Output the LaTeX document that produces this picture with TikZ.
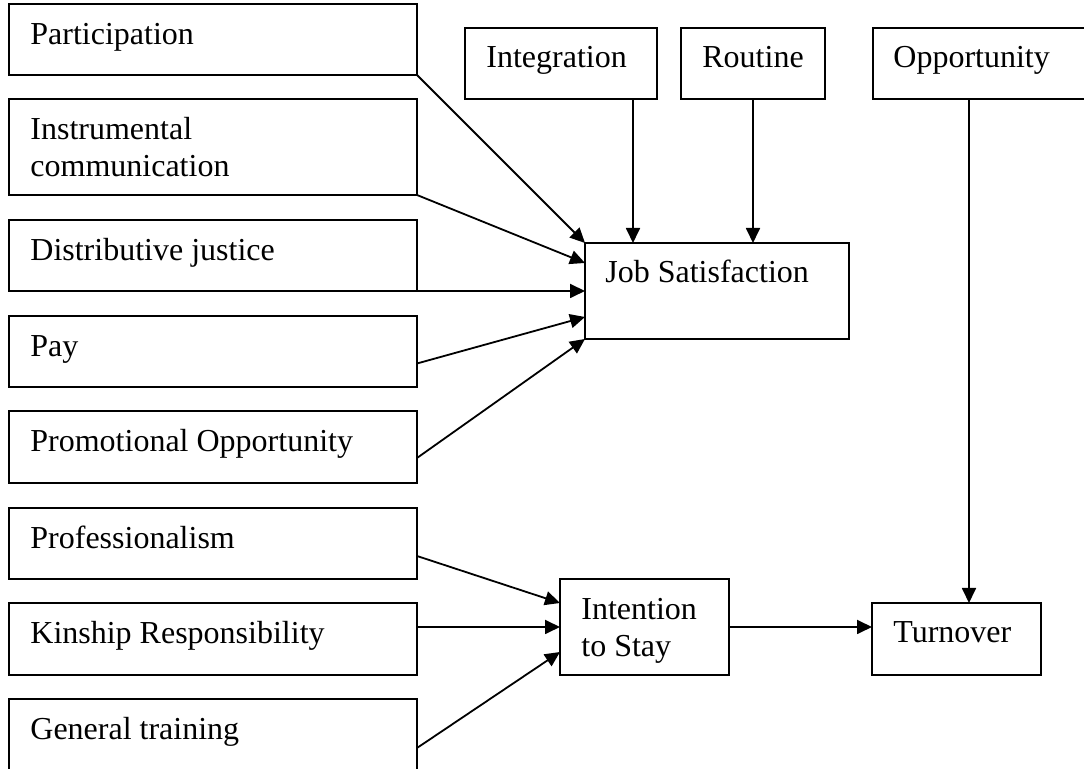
\documentclass[tikz,border=0pt]{standalone}
\usepackage{fontspec}
\setmainfont{Liberation Serif}
\usetikzlibrary{arrows.meta,calc}
\begin{document}
\begin{tikzpicture}[x=0.5pt,y=-0.5pt,
  box/.style={draw,line width=1.1pt,inner sep=0pt,outer sep=0pt,rectangle},
  lbl/.style={inner sep=0pt,anchor=base west,align=left,font=\fontsize{16}{18.5}\selectfont},
  conn/.style={line width=0.9pt,-{Triangle[length=7.5pt,width=7pt]}}]
\useasboundingbox (0,0) rectangle (1084,769);
% left boxes (w 408 px = 204pt)
\node[box,minimum width=204pt,minimum height=35.5pt] (part) at (213,39.5) {};
\node[lbl] (partT) at (30,45) {Participation};
\node[box,minimum width=204pt,minimum height=48pt] (instr) at (213,147) {};
\node[lbl] (instrT) at (30,177) {Instrumental\\communication};
\node[box,minimum width=204pt,minimum height=35.5pt] (dist) at (213,255.5) {};
\node[lbl] (distT) at (30,261) {Distributive justice};
\node[box,minimum width=204pt,minimum height=35.5pt] (pay) at (213,351.5) {};
\node[lbl] (payT) at (30,357) {Pay};
\node[box,minimum width=204pt,minimum height=36pt] (promo) at (213,447) {};
\node[lbl] (promoT) at (30,452) {Promotional Opportunity};
\node[box,minimum width=204pt,minimum height=35.5pt] (prof) at (213,543.5) {};
\node[lbl] (profT) at (30,549) {Professionalism};
\node[box,minimum width=204pt,minimum height=36pt] (kin) at (213,639) {};
\node[lbl] (kinT) at (30,644) {Kinship Responsibility};
\node[box,minimum width=204pt,minimum height=36pt] (gen) at (213,735) {};
\node[lbl] (genT) at (30,740) {General training};
% top boxes
\node[box,minimum width=96pt,minimum height=35.5pt] (integ) at (561,63.5) {};
\node[lbl] (integT) at (486,68) {Integration};
\node[box,minimum width=72pt,minimum height=35.5pt] (rout) at (753,63.5) {};
\node[lbl] (routT) at (702,68) {Routine};
\node[box,minimum width=111pt,minimum height=35.5pt] (opp) at (984,63.5) {};
\node[lbl] (oppT) at (893,68) {Opportunity};
% central boxes
\node[box,minimum width=132pt,minimum height=48pt] (js) at (717,291) {};
\node[lbl] (jsT) at (605,283) {Job Satisfaction};
\node[box,minimum width=84.5pt,minimum height=48pt] (its) at (644.5,627) {};
\node[lbl] (itsT) at (581,657) {Intention\\to Stay};
\node[box,minimum width=84.5pt,minimum height=36pt] (turn) at (956.5,639) {};
\node[lbl] (turnT) at (893,643) {Turnover};
% connectors
\draw[conn] (part.south east) -- (js.north west);
\draw[conn] (instr.south east) -- ($(js.north west)+(0,20)$);
\draw[conn] (dist.south east) -- (js.west);
\draw[conn] ($(pay.east)+(0,12)$) -- ($(js.south west)+(0,-22)$);
\draw[conn] ($(promo.east)+(0,11)$) -- (js.south west);
\coordinate (integS) at ($(integ.south east)+(-24,0)$);
\draw[conn] (integS) -- (integS |- js.north);
\draw[conn] (rout.south) -- (rout.south |- js.north);
\coordinate (oppS) at ($(opp.south west)+(96,0)$);
\draw[conn] (oppS) -- (oppS |- turn.north);
\draw[conn] ($(prof.east)+(0,12.5)$) -- ($(its.west)+(0,-24)$);
\coordinate (kinE) at ($(kin.east)+(0,-12)$);
\draw[conn] (kinE) -- (kinE -| its.west);
\draw[conn] ($(gen.east)+(0,13)$) -- ($(its.west)+(0,25)$);
\draw[conn] (its.east) -- (its.east -| turn.west);
\end{tikzpicture}
\end{document}
